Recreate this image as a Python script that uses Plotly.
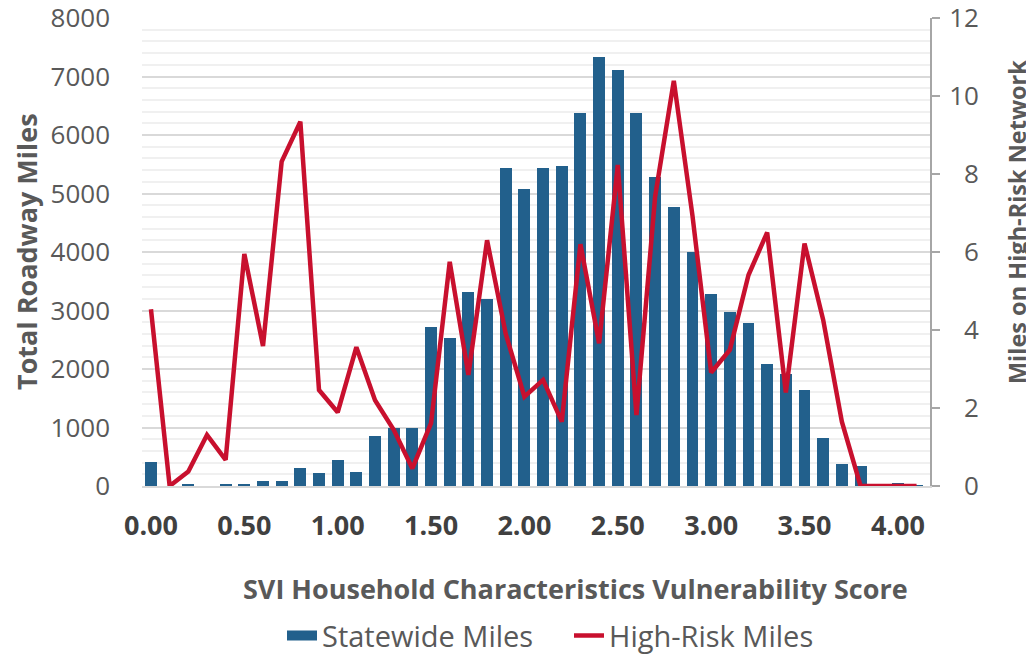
## Import packages:
# ============================================================================
import plotly.graph_objects as go

## Data:
# ============================================================================
svi_score = [0.0, 0.1, 0.2, 0.3, 0.4, 0.5, 0.6, 0.7, 0.8, 0.9,
             1.0, 1.1, 1.2, 1.3, 1.4, 1.5, 1.6, 1.7, 1.8, 1.9,
             2.0, 2.1, 2.2, 2.3, 2.4, 2.5, 2.6, 2.7, 2.8, 2.9,
             3.0, 3.1, 3.2, 3.3, 3.4, 3.5, 3.6, 3.7, 3.8, 3.9,
             4.0, 4.1]

statewide_miles = [405, 0, 20, 0, 20, 40, 80, 80, 300, 220,
                   445, 240, 855, 997, 985, 2712, 2524, 3310, 3190, 5430,
                   5072, 5430, 5470, 6371, 7328, 7111, 6371, 5288, 4775, 3994,
                   3290, 2980, 2781, 2080, 1915, 1641, 826, 370, 348, 0,
                   45, 10]

high_risk_miles = [4.53, 0, 0.37, 1.31, 0.67, 5.95, 3.59, 8.32, 9.34, 2.46,
                   1.89, 3.56, 2.2, 1.44, 0.45, 1.61, 5.75, 2.85, 6.3, 3.9,
                   2.29, 2.72, 1.65, 6.2, 3.66, 8.23, 1.82, 7.42, 10.39, 6.93,
                   2.91, 3.49, 5.41, 6.5, 2.4, 6.22, 4.26, 1.65, 0, 0,
                   0, 0]

x_tickvals = [0.0, 0.5, 1.0, 1.5, 2.0, 2.5, 3.0, 3.5, 4.0]
x_ticktext = ['0.00', '0.50', '1.00', '1.50', '2.00', '2.50', '3.00', '3.50', '4.00']
y_tickvals = [0, 1000, 2000, 3000, 4000, 5000, 6000, 7000, 8000]
y2_tickvals = [0, 2, 4, 6, 8, 10, 12]
y2_ticktext = ['\u2007' + str(v) if v < 10 else str(v) for v in y2_tickvals]

## Style:
# ============================================================================
font_family = 'Open Sans, Lato, sans-serif'
blauw = '#22608c'
rood = '#c8102e'
grijs_tekst = '#595959'

fig = go.Figure()

## Statewide bars:
# --------------------------------------
fig.add_trace(
    go.Bar(
        x=svi_score,
        y=statewide_miles,
        name='Statewide Miles',
        width=0.064,
        marker=dict(color=blauw, line=dict(width=0)),
        yaxis='y',
        showlegend=False,
    )
)

## Legend swatch for the bars (wide block like the original):
# --------------------------------------
fig.add_trace(
    go.Scatter(
        x=[None],
        y=[None],
        name='Statewide Miles',
        mode='lines',
        line=dict(color=blauw, width=14),
        yaxis='y',
        hoverinfo='none',
    )
)

## High-risk line:
# --------------------------------------
fig.add_trace(
    go.Scatter(
        x=svi_score,
        y=high_risk_miles,
        name='High-Risk Miles',
        mode='lines',
        line=dict(color=rood, width=4.5),
        yaxis='y2',
    )
)

## Layout:
# ============================================================================
# de pagina heeft 8px body-marge: plotgebied komt op 142..930 x 18..486
fig.update_layout(
    width=1034,
    height=655,
    margin=dict(l=134, r=112, t=10, b=177, autoexpand=False),
    paper_bgcolor='white',
    plot_bgcolor='white',
    font=dict(family=font_family, color=grijs_tekst),
    bargap=0,
    xaxis=dict(
        range=[-0.048, 4.172],
        tickmode='array',
        tickvals=x_tickvals,
        ticktext=x_ticktext,
        tickfont=dict(size=27, color='#404040', weight='bold'),
        ticks='',
        ticklabelstandoff=15,
        ticklabeloverflow='allow',
        showgrid=False,
        showline=True,
        linecolor='#d9d9d9',
        linewidth=2,
        zeroline=False,
    ),
    yaxis=dict(
        range=[0, 8000],
        tickmode='array',
        tickvals=y_tickvals,
        tickfont=dict(size=26, color=grijs_tekst),
        ticklabelstandoff=31,
        ticklabeloverflow='allow',
        showgrid=True,
        gridcolor='#d9d9d9',
        gridwidth=2,
        minor=dict(dtick=200, showgrid=True, gridcolor='#f0f0f0', gridwidth=2),
        showline=False,
        zeroline=False,
        ticks='',
    ),
    yaxis2=dict(
        range=[0, 12],
        overlaying='y',
        side='right',
        tickmode='array',
        tickvals=y2_tickvals,
        ticktext=y2_ticktext,
        tickfont=dict(size=26, color=grijs_tekst),
        ticklabeloverflow='allow',
        ticklabelstandoff=4,
        showgrid=False,
        showline=True,
        linecolor='#a6a6a6',
        linewidth=2,
        ticks='outside',
        ticklen=8,
        tickwidth=2,
        tickcolor='#a6a6a6',
        zeroline=False,
    ),
    legend=dict(
        orientation='h',
        x=(282 - 142) / 788,
        xanchor='left',
        y=-0.32,
        yanchor='middle',
        font=dict(size=29, color=grijs_tekst),
        traceorder='normal',
        itemsizing='trace',
        entrywidth=242,
    ),
    showlegend=True,
)

## Axis titles:
# --------------------------------------
fig.add_annotation(
    text='SVI Household Characteristics Vulnerability Score',
    xref='paper', yref='paper', x=(575 - 142) / 788, y=-0.218,
    xanchor='center', yanchor='middle', showarrow=False,
    font=dict(size=27, color=grijs_tekst, weight='bold'),
)
fig.add_annotation(
    text='Total Roadway Miles',
    xref='paper', yref='paper', x=(26 - 142) / 788, y=0.50,
    xanchor='center', yanchor='middle', showarrow=False, textangle=-90,
    font=dict(size=27, color=grijs_tekst, weight='bold'),
)
fig.add_annotation(
    text='Miles on High-Risk Network',
    xref='paper', yref='paper', x=(1017 - 142) / 788, y=0.564,
    xanchor='center', yanchor='middle', showarrow=False, textangle=-90,
    font=dict(size=23.5, color=grijs_tekst, weight='bold'),
)

fig.write_html('out.html')
